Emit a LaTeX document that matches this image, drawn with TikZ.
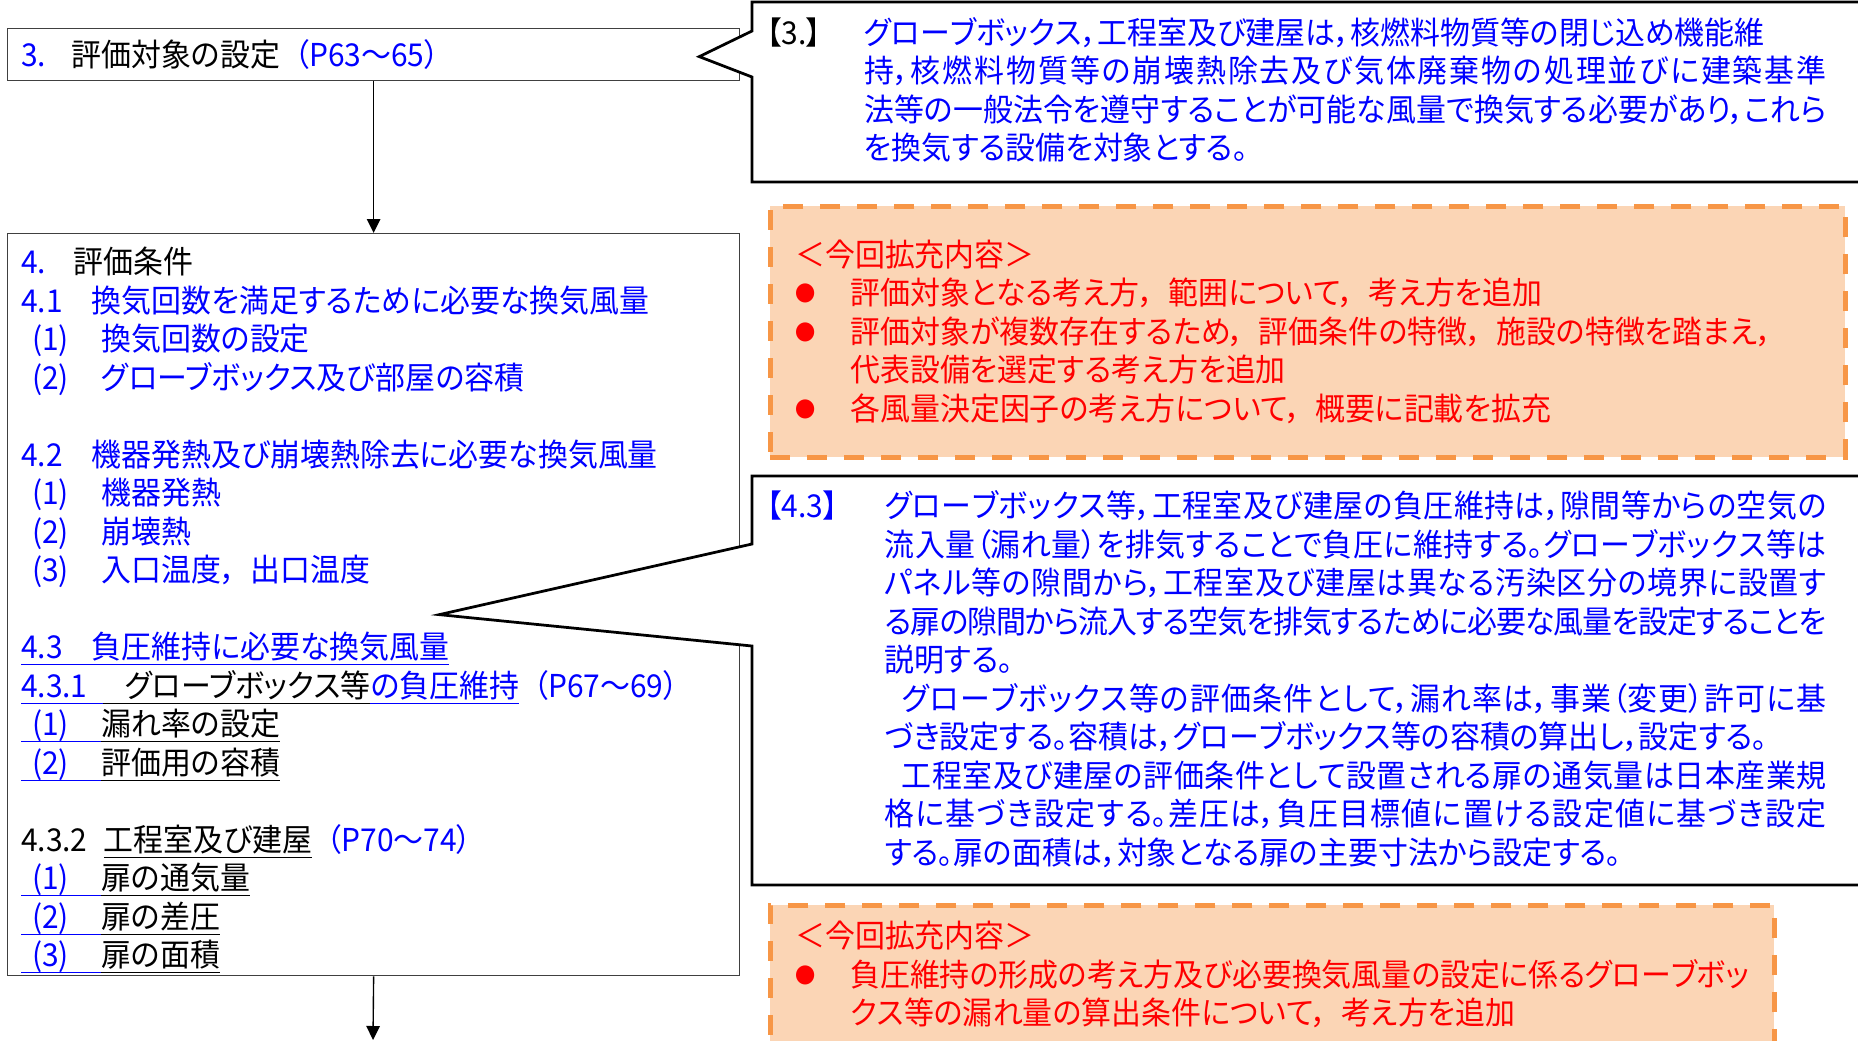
\documentclass[tikz,border=0pt]{standalone}
\usepackage{fontspec}
\setmainfont{Noto Sans CJK JP}[RawFeature=+palt,FakeStretch=0.95]
\usepackage{tikz}
\usetikzlibrary{arrows.meta,calc}
\definecolor{txtblue}{HTML}{0000FF}
\definecolor{txtred}{HTML}{FF0000}
\definecolor{addfill}{HTML}{FBD5B5}
\definecolor{addline}{HTML}{F79646}
\definecolor{boxline}{HTML}{404040}
\newcommand\undl[1]{\underline{\raisebox{0pt}[\height][1pt]{#1}}}
\newcommand\itm[1]{\makebox[2.55em][l]{\hspace*{.35em}#1}}
\newcommand\bul{\makebox[1.75em][l]{\raisebox{1.2pt}{\fontsize{8.5}{8.5}\selectfont ●}}}
\newcommand\cma{，\hspace{.45em}}
\newcommand\pg[1]{\hspace{.45em}（#1）}
\newcommand\jpjust{\XeTeXlinebreaklocale "ja"\XeTeXlinebreakskip=0pt plus 2pt minus 2pt
  \XeTeXlinebreakpenalty=10000 \parindent=0pt \parskip=0pt}
\tikzset{
  flowbox/.style={draw=boxline,line width=.5pt,anchor=north west,inner xsep=5.4pt,inner ysep=0pt,
    align=left,font=\fontsize{12.6}{15.4}\selectfont},
  flowarrow/.style={-{Triangle[length=5.6pt,width=5.4pt]},line width=.55pt},
  callout/.style={draw=black,line width=1.1pt,fill=white,line join=miter},
  notetext/.style={anchor=west,inner sep=0pt,text width=424pt,align=justify,text=txtblue,
    font=\fontsize{12.6}{15.4}\selectfont,execute at begin node=\jpjust},
  addbox/.style={draw=addline,fill=addfill,line width=1.8pt,dash pattern=on 8pt off 6.8pt,anchor=north west,
    inner xsep=10pt,inner ysep=0pt,align=left,text=txtred,font=\fontsize{12.6}{15.4}\selectfont,
    execute at begin node=\jpjust}
}

\begin{document}
\begin{tikzpicture}[x=.4pt,y=-.4pt]
\useasboundingbox (0,0) rectangle (1858,1040);
%flow
\node[flowbox,minimum width=292.8pt,minimum height=20.8pt,text width=282pt] (sec3) at (7,28)
  {\makebox[1.6em][l]{\textcolor{txtblue}{3.}}評価対象の設定\textcolor{txtblue}{\pg{P63～65}}};
\node[flowbox,minimum width=292.8pt,minimum height=296.8pt,text width=282pt] (sec4) at (7,233)
  {\rule{0pt}{15.5pt}\makebox[1.66em][l]{\textcolor{txtblue}{4.}}評価条件\\
   \textcolor{txtblue}{\makebox[2.25em][l]{4.1}換気回数を満足するために必要な換気風量}\\
   \textcolor{txtblue}{\itm{(1)}換気回数の設定}\\
   \textcolor{txtblue}{\itm{(2)}グローブボックス及び部屋の容積}\\[15.4pt]
   \textcolor{txtblue}{\makebox[2.25em][l]{4.2}機器発熱及び崩壊熱除去に必要な換気風量}\\
   \textcolor{txtblue}{\itm{(1)}機器発熱}\\
   \textcolor{txtblue}{\itm{(2)}崩壊熱}\\
   \textcolor{txtblue}{\itm{(3)}入口温度\cma 出口温度}\\[15.4pt]
   \textcolor{txtblue}{\undl{\makebox[2.25em][l]{4.3}負圧維持に必要な換気風量}}\\
   \textcolor{txtblue}{\undl{\makebox[2.6em][l]{4.3.1}}}\undl{\hspace*{.7em}グローブボックス等}\textcolor{txtblue}{\undl{の負圧維持}\pg{P67～69}}\\
   \textcolor{txtblue}{\undl{\itm{(1)}}}\undl{漏れ率の設定}\\
   \textcolor{txtblue}{\undl{\itm{(2)}}}\undl{評価用の容積}\\[15.4pt]
   \makebox[2.63em][l]{4.3.2}\undl{工程室及び建屋}\textcolor{txtblue}{\pg{P70～74}}\\
   \textcolor{txtblue}{\undl{\itm{(1)}}}\undl{扉の通気量}\\
   \textcolor{txtblue}{\undl{\itm{(2)}}}\undl{扉の差圧}\\
   \textcolor{txtblue}{\undl{\itm{(3)}}}\undl{扉の面積}};
\coordinate (next) at (373,1040);
\draw[flowarrow] (sec3.south) -- (sec4.north);
\draw[flowarrow] (sec4.south) -- (next);
%callout 3.
\draw[callout] (1870,2) -- (752,2) -- (752,31) -- ($(sec3.east)+(-41,2)$) -- (752,77) -- (752,182) -- (1870,182);
\node[notetext] (note3) at (766,90)
  {\hangindent=3.1em\hangafter=1
   \makebox[3.1em][l]{\textcolor{black}{【3.】}}グローブボックス，工程室及び建屋は，核燃料物質等の閉じ込め機能維\newline
   持，核燃料物質等の崩壊熱除去及び気体廃棄物の処理並びに建築基準\linebreak
   法等の一般法令を遵守することが可能な風量で換気する必要があり，これら\linebreak
   を換気する設備を対象とする。\par};
%callout 4.3
\draw[callout] (1870,476) -- (752,476) -- (752,544) -- ($(sec4.east)+(-301,10)$) -- (752,646) -- (752,885) -- (1870,885);
\node[notetext] (note43) at (766,679)
  {\hangindent=3.75em\hangafter=1
   \makebox[3.75em][l]{【4.3】}グローブボックス等，工程室及び建屋の負圧維持は，隙間等からの空気の\linebreak
   流入量（漏れ量）を排気することで負圧に維持する。グローブボックス等は\linebreak
   パネル等の隙間から，工程室及び建屋は異なる汚染区分の境界に設置す\linebreak
   る扉の隙間から流入する空気を排気するために必要な風量を設定することを\linebreak
   説明する。\par
   \hangindent=3.75em\hangafter=0
   \hspace*{.54em}グローブボックス等の評価条件として，漏れ率は，事業（変更）許可に基\linebreak
   づき設定する。容積は，グローブボックス等の容積の算出し，設定する。\par
   \hangindent=3.75em\hangafter=0
   \hspace*{.54em}工程室及び建屋の評価条件として設置される扉の通気量は日本産業規\linebreak
   格に基づき設定する。差圧は，負圧目標値に置ける設定値に基づき設定\linebreak
   する。扉の面積は，対象となる扉の主要寸法から設定する。\par};
%additions
\node[addbox,minimum width=430pt,minimum height=100.4pt,text width=410pt] (add3) at (768,204)
  {＜今回拡充内容＞\\
   \bul 評価対象となる考え方\cma 範囲について\cma 考え方を追加\\
   \bul 評価対象が複数存在するため\cma 評価条件の特徴\cma 施設の特徴を踏まえ，\\
   \hspace*{1.75em}代表設備を選定する考え方を追加\\
   \bul 各風量決定因子の考え方について\cma 概要に記載を拡充};
\node[addbox,minimum width=401.6pt,minimum height=55.6pt,text width=381.6pt] (add43) at (768,903)
  {＜今回拡充内容＞\\
   \bul 負圧維持の形成の考え方及び必要換気風量の設定に係るグローブボッ\\
   \hspace*{1.75em}クス等の漏れ量の算出条件について\cma 考え方を追加};
\end{tikzpicture}
\end{document}
